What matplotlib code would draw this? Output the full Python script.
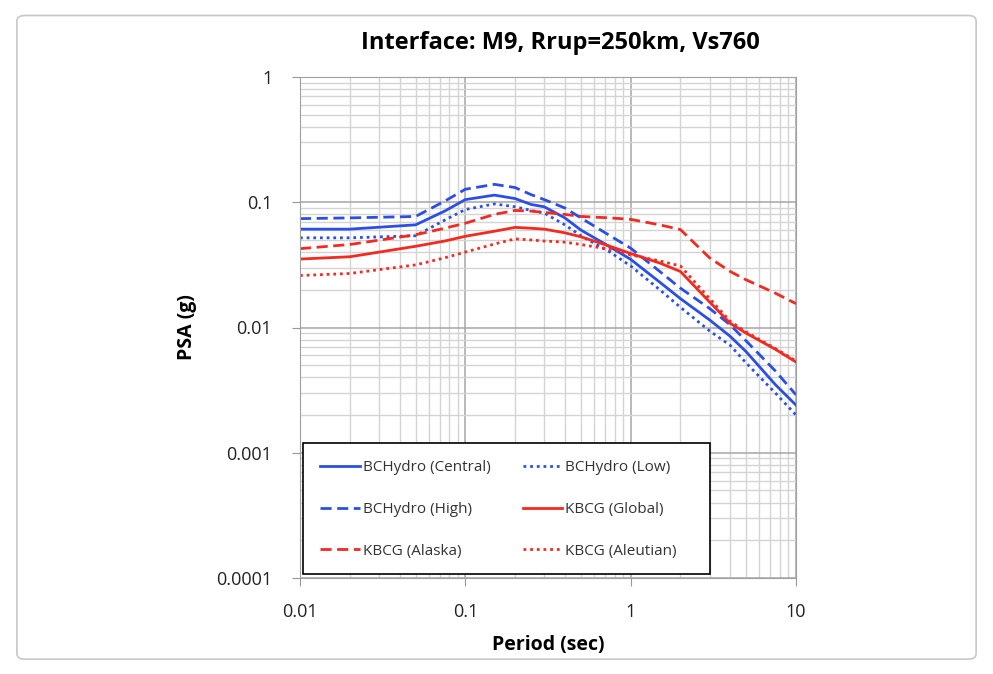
import matplotlib
matplotlib.use("Agg")
import matplotlib.pyplot as plt
from matplotlib.patches import FancyBboxPatch, Rectangle

plt.rcParams['font.family'] = ['Open Sans', 'DejaVu Sans']

# periods (sec)
period = [0.01, 0.02, 0.05, 0.075, 0.1, 0.15, 0.2, 0.25, 0.3, 0.4, 0.5,
          0.75, 1.0, 1.5, 2.0, 3.0, 4.0, 5.0, 7.5, 10.0]

# PSA (g)
bch_central = [0.061, 0.061, 0.066, 0.085, 0.105, 0.114, 0.107, 0.096, 0.092, 0.075, 0.060,
               0.044, 0.035, 0.023, 0.017, 0.0115, 0.0085, 0.0064, 0.0035, 0.0024]
bch_low = [0.052, 0.052, 0.054, 0.072, 0.0875, 0.097, 0.092, 0.086, 0.082, 0.066, 0.054,
           0.040, 0.031, 0.020, 0.0145, 0.0094, 0.0072, 0.0052, 0.003, 0.002]
bch_high = [0.074, 0.075, 0.077, 0.102, 0.127, 0.139, 0.131, 0.115, 0.105, 0.090, 0.075,
            0.054, 0.043, 0.028, 0.0206, 0.0142, 0.0105, 0.0078, 0.0045, 0.0029]
kbcg_global = [0.0352, 0.0367, 0.0445, 0.049, 0.0535, 0.0587, 0.063, 0.062, 0.061, 0.057, 0.053,
               0.0445, 0.039, 0.0327, 0.028, 0.016, 0.0108, 0.0090, 0.0067, 0.0053]
kbcg_alaska = [0.0426, 0.046, 0.055, 0.062, 0.068, 0.080, 0.086, 0.085, 0.083, 0.080, 0.077,
               0.075, 0.073, 0.066, 0.0605, 0.036, 0.028, 0.024, 0.0188, 0.0155]
kbcg_aleutian = [0.026, 0.027, 0.0316, 0.036, 0.040, 0.0464, 0.051, 0.050, 0.049, 0.048, 0.046,
                 0.042, 0.038, 0.034, 0.031, 0.017, 0.0112, 0.0092, 0.0068, 0.0054]

blue = '#2B4FE6'
red = '#F22A1F'

W, H = 993, 674
fig = plt.figure(figsize=(W / 100, H / 100), dpi=100)
fig.patches.append(FancyBboxPatch((0.017, 0.022), 0.966, 0.955, boxstyle="round,pad=0,rounding_size=0.008",
                                  transform=fig.transFigure, fill=False, edgecolor='#c8c8c8', linewidth=1.2))
# plot area in pixels: left 300, right 796, top 77, bottom 578
ax = fig.add_axes([300 / W, 1 - 578 / H, (796 - 300) / W, (578 - 77) / H])

lw = 2.0
dot = (0, (1, 1.4))
dash = (0, (4, 2))
h_central, = ax.plot(period, bch_central, color=blue, lw=lw, label='BCHydro (Central)')
h_low, = ax.plot(period, bch_low, color=blue, lw=lw, ls=dot, label='BCHydro (Low)')
h_high, = ax.plot(period, bch_high, color=blue, lw=lw, ls=dash, label='BCHydro (High)')
h_global, = ax.plot(period, kbcg_global, color=red, lw=lw, label='KBCG (Global)')
h_alaska, = ax.plot(period, kbcg_alaska, color=red, lw=lw, ls=dash, label='KBCG (Alaska)')
h_aleut, = ax.plot(period, kbcg_aleutian, color=red, lw=lw, ls=dot, label='KBCG (Aleutian)')

ax.set_xscale('log')
ax.set_yscale('log')
ax.set_xlim(0.01, 10)
ax.set_ylim(0.0001, 1)
ax.set_xticks([0.01, 0.1, 1, 10])
ax.set_xticklabels(['0.01', '0.1', '1', '10'])
ax.set_yticks([0.0001, 0.001, 0.01, 0.1, 1])
ax.set_yticklabels(['0.0001', '0.001', '0.01', '0.1', '1'])
ax.tick_params(which='major', labelsize=13, length=6, color='#999999', pad=14, labelcolor='#222222')
ax.tick_params(axis='x', which='major', pad=12)
ax.tick_params(which='minor', length=0)
ax.grid(True, which='major', color='#a6a6a6', lw=1.1)
ax.grid(True, which='minor', color='#d4d4d4', lw=1.0)
ax.set_axisbelow(True)
for s in ax.spines.values():
    s.set_color('#a0a0a0')

ax.set_xlabel('Period (sec)', fontsize=14, fontweight='bold', labelpad=10)
ax.set_ylabel('PSA (g)', fontsize=14, fontweight='bold', labelpad=14)
fig.text(560 / W, 1 - 43 / H, 'Interface: M9, Rrup=250km, Vs760', fontsize=17, fontweight='bold',
         ha='center', va='center')

# legend box: pixels x 303..710, y 443..574
def ax_x(px):
    return (px - 300) / 496

def ax_y(py):
    return (578 - py) / 501

ax.add_patch(Rectangle((ax_x(303), ax_y(574)), ax_x(710) - ax_x(303), ax_y(443) - ax_y(574),
                       transform=ax.transAxes, facecolor='white', edgecolor='black', lw=1.2, zorder=4))
handles = [h_central, h_high, h_alaska, h_low, h_global, h_aleut]
leg = ax.legend(handles=handles, ncol=2, loc='upper left', bbox_to_anchor=(ax_x(320), ax_y(460)),
                fontsize=11, labelspacing=1.76, handlelength=2.6, handletextpad=0.2,
                columnspacing=2.1, borderpad=0, borderaxespad=0, frameon=False)
leg.set_zorder(5)
for t in leg.get_texts():
    t.set_color('#333333')

fig.savefig('out.png', dpi=100)
